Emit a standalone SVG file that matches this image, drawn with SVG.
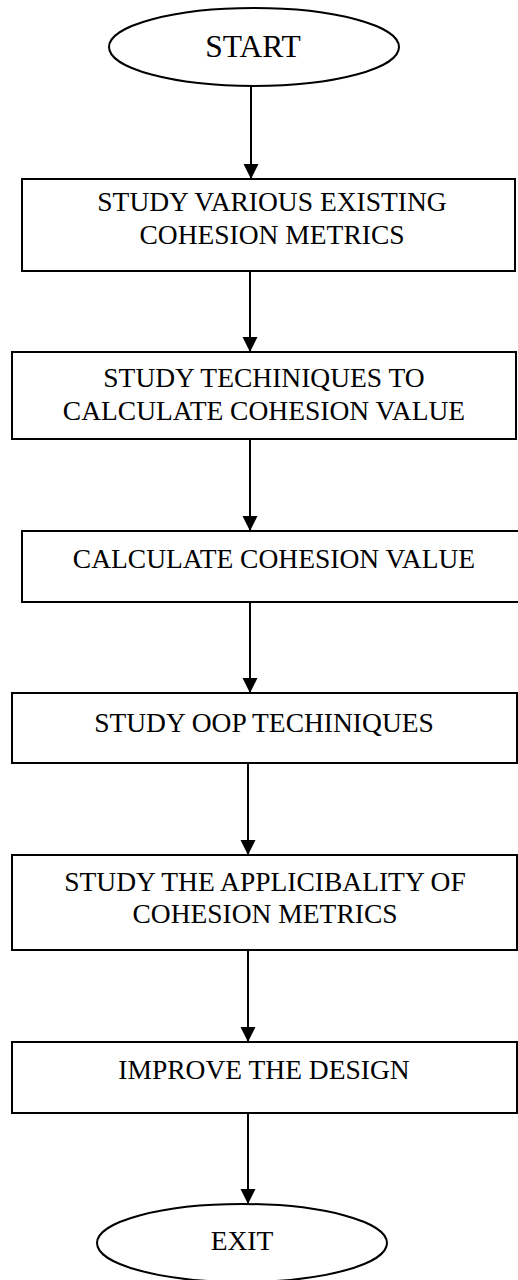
<svg xmlns="http://www.w3.org/2000/svg" width="518" height="1280" viewBox="0 0 518 1280">
<style>
.shape{fill:#fff;stroke:#000;stroke-width:2}
.lbl{font-family:"Liberation Serif","Times New Roman",serif;font-size:27.5px;fill:#000;text-anchor:middle}
.big{font-size:31.5px}
.conn{stroke:#000;stroke-width:2;fill:none;marker-end:url(#arr)}
</style>
<defs>
<marker id="arr" markerUnits="userSpaceOnUse" markerWidth="16" markerHeight="16" refX="15" refY="7.5" orient="auto">
<path d="M0,0 L15,7.5 L0,15 z" fill="#000"/>
</marker>
</defs>
<rect width="518" height="1280" fill="#fff"/>
<g id="start">
<ellipse class="shape" cx="254" cy="47" rx="145" ry="39"/>
<text class="lbl big" x="253" y="57">START</text>
</g>
<g id="step1">
<rect class="shape" x="22" y="179" width="493" height="92"/>
<text class="lbl" x="272" y="211">STUDY VARIOUS EXISTING</text>
<text class="lbl" x="272" y="244">COHESION METRICS</text>
</g>
<g id="step2">
<rect class="shape" x="12" y="352" width="504" height="87"/>
<text class="lbl" x="264" y="387">STUDY TECHINIQUES TO</text>
<text class="lbl" x="264" y="420">CALCULATE COHESION VALUE</text>
</g>
<g id="step3">
<rect class="shape" x="22" y="531" width="508" height="71"/>
<text class="lbl" x="274" y="568">CALCULATE COHESION VALUE</text>
</g>
<g id="step4">
<rect class="shape" x="12" y="693" width="505" height="70"/>
<text class="lbl" x="264" y="732">STUDY OOP TECHINIQUES</text>
</g>
<g id="step5">
<rect class="shape" x="12" y="855" width="505" height="95"/>
<text class="lbl" x="265" y="891">STUDY THE APPLICIBALITY OF</text>
<text class="lbl" x="265" y="923">COHESION METRICS</text>
</g>
<g id="step6">
<rect class="shape" x="12" y="1042" width="505" height="71"/>
<text class="lbl" x="264" y="1079">IMPROVE THE DESIGN</text>
</g>
<g id="exit">
<ellipse class="shape" cx="242" cy="1243" rx="145" ry="39"/>
<text class="lbl" x="242" y="1250">EXIT</text>
</g>
<g id="connectors">
<line class="conn" x1="251" y1="86" x2="251" y2="179"/>
<line class="conn" x1="250" y1="271" x2="250" y2="352"/>
<line class="conn" x1="250" y1="439" x2="250" y2="531"/>
<line class="conn" x1="250" y1="602" x2="250" y2="693"/>
<line class="conn" x1="248" y1="763" x2="248" y2="855"/>
<line class="conn" x1="248" y1="950" x2="248" y2="1042"/>
<line class="conn" x1="248" y1="1113" x2="248" y2="1204"/>
</g>
</svg>
